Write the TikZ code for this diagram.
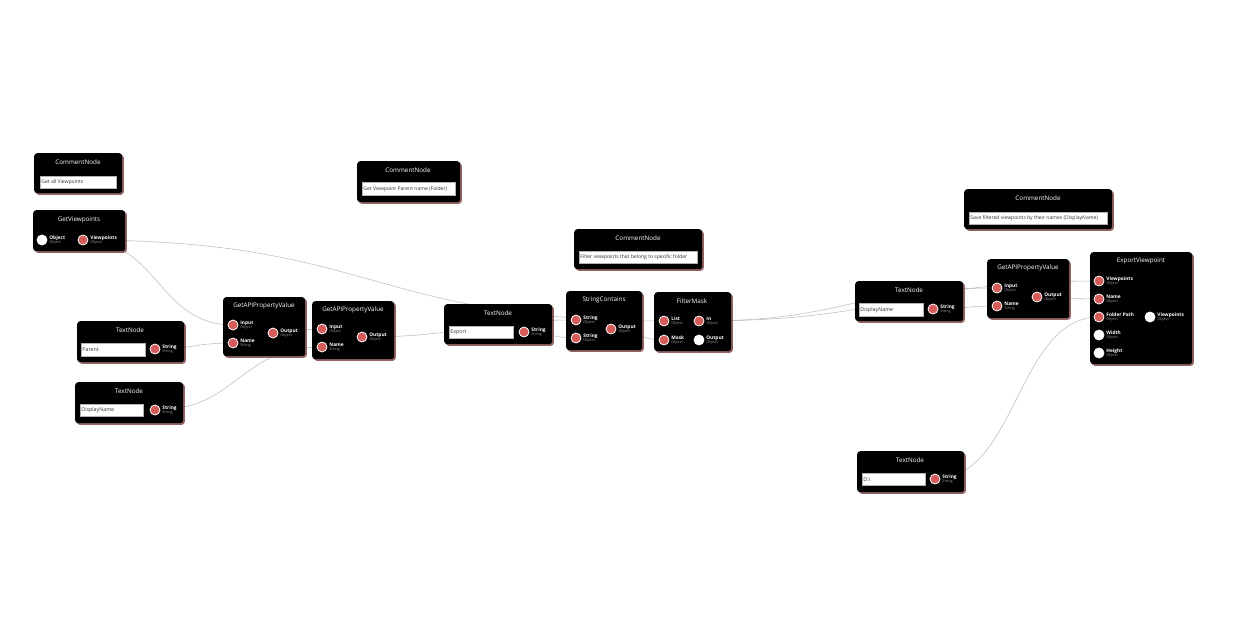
\documentclass[tikz,border=0pt]{standalone}
\usepackage{fontspec}
\setmainfont{Open Sans}
\usetikzlibrary{calc,shadows,backgrounds}
\definecolor{portred}{RGB}{214,92,92}
\definecolor{shad}{RGB}{120,60,60}
\definecolor{wiregray}{RGB}{190,190,190}
\definecolor{typegray}{RGB}{150,150,150}
\pgfdeclarelayer{wires}
\pgfsetlayers{background,wires,main}
\tikzset{
  blk/.style={fill=black, rounded corners=3pt, inner sep=0pt, anchor=north west,
    drop shadow={shadow xshift=1.6pt, shadow yshift=-1.6pt, fill=shad, opacity=0.8}},
  ttl/.style={text=white, inner sep=0pt, font=\fontsize{6.3}{7}\selectfont},
  tbox/.style={fill=white, draw=gray!60, line width=0.4pt, inner sep=0pt, anchor=north west},
  tboxtxt/.style={anchor=west, inner sep=0pt, text=black!80, font=\fontsize{5.3}{5.5}\selectfont},
  ctxt/.style={anchor=west, inner sep=0pt, text=black!80, font=\fontsize{5.05}{5.5}\selectfont},
  port/.style={circle, minimum size=10pt, inner sep=0pt, draw=white, line width=0.8pt},
  on/.style={fill=portred},
  off/.style={fill=white},
  plbl/.style={align=left, inner sep=0pt, text=white, font=\fontsize{4.8}{4.1}\selectfont},
  wirestyle/.style={draw=wiregray, line width=0.55pt}
}
\newcommand\mkport[6]{%
  \node[port,#4] (#1) at (#2,#3) {};
  \node[plbl, anchor=west] (#1-l) at ([xshift=1.8pt]#1.east) {\textbf{#5}\\{\fontsize{3.8}{3.8}\selectfont\color{typegray}#6}};
}
\newcommand\mkbox[5]{% name x1 y1 x2 y2
  \node[blk, minimum width={(#4-#2)*1pt}, minimum height={(#5-#3)*1pt}] (#1) at (#2,#3) {};
}
\newcommand\mktitle[4]{% name cx y text
  \node[ttl] (#1) at (#2,#3) {#4};
}
\newcommand\mktext[7]{% name x1 y1 x2 y2 style text
  \node[tbox, minimum width={(#4-#2)*1pt}, minimum height={(#5-#3)*1pt}] (#1) at (#2,#3) {};
  \node[#6] (#1-txt) at ([xshift=1.2pt]#1.west) {#7};
}
\newcommand\wire[2]{%
  \draw[wirestyle] let \p1=(#1.center), \p2=(#2.center), \n1={(\x2-\x1)/2} in
    (\p1) .. controls +(\n1,0) and +(-\n1,0) .. (\p2);
}
\begin{document}
\begin{tikzpicture}[x=1pt,y=-1pt]
\begin{pgfonlayer}{background}
  \fill[white] (0,0) rectangle (1249,624);
\end{pgfonlayer}
\useasboundingbox (0,0) rectangle (1249,624);

% Comment 1
\mkbox{c1}{34}{153}{122}{193}
\mktitle{c1t}{78}{162}{CommentNode}
\mktext{c1b}{40}{176}{116}{188}{ctxt}{Get all Viewpoints}

% GetViewpoints
\mkbox{gv}{33}{210}{125}{251}
\mktitle{gvt}{79}{220}{GetViewpoints}
\mkport{gvin}{42}{240}{off}{Object}{Object}
\mkport{gvout}{83}{240}{on}{Viewpoints}{Object}

% TextNode Parent
\mkbox{tp}{77}{321}{184}{362}
\mktitle{tpt}{130}{330}{TextNode}
\mktext{tpb}{81}{343}{145}{356}{tboxtxt}{Parent}
\mkport{tpout}{155}{349}{on}{String}{String}

% TextNode DisplayName
\mkbox{td}{75}{382}{183}{423}
\mktitle{tdt}{129}{391}{TextNode}
\mktext{tdb}{80}{404}{143}{416}{tboxtxt}{DisplayName}
\mkport{tdout}{155}{410}{on}{String}{String}

% GetAPIPropertyValue 1
\mkbox{ga}{223}{297}{305}{356}
\mktitle{gat}{264}{306}{GetAPIPropertyValue}
\mkport{gain}{233}{325}{on}{Input}{Object}
\mkport{ganame}{233}{343}{on}{Name}{String}
\mkport{gaout}{273}{333}{on}{Output}{Object}

% GetAPIPropertyValue 2
\mkbox{gb}{312}{301}{394}{359}
\mktitle{gbt}{353}{310}{GetAPIPropertyValue}
\mkport{gbin}{322}{329}{on}{Input}{Object}
\mkport{gbname}{322}{347}{on}{Name}{String}
\mkport{gbout}{362}{337}{on}{Output}{Object}

% Comment 2
\mkbox{c2}{357}{161}{460}{202}
\mktitle{c2t}{408}{170}{CommentNode}
\mktext{c2b}{362}{182}{455}{195}{ctxt}{Get Viewpoint Parent name (Folder)}

% TextNode Export
\mkbox{te}{444}{304}{552}{344}
\mktitle{tet}{498}{313}{TextNode}
\mktext{teb}{449}{326}{513}{338}{tboxtxt}{Export}
\mkport{teout}{524}{332}{on}{String}{String}

% StringContains
\mkbox{sc}{566}{291}{642}{350}
\mktitle{sct}{604}{300}{StringContains}
\mkport{scs1}{576}{320}{on}{String}{Object}
\mkport{scs2}{576}{338}{on}{String}{Object}
\mkport{scout}{611}{329}{on}{Output}{Object}

% FilterMask
\mkbox{fm}{654}{292}{731}{351}
\mktitle{fmt}{692}{301}{FilterMask}
\mkport{fmlist}{664}{321}{on}{List}{Object}
\mkport{fmmask}{664}{340}{on}{Mask}{Object}
\mkport{fmin}{699}{321}{on}{In}{Object}
\mkport{fmout}{699}{340}{off}{Output}{Object}

% Comment 3
\mkbox{c3}{574}{229}{702}{269}
\mktitle{c3t}{638}{238}{CommentNode}
\mktext{c3b}{579}{251}{697}{263}{ctxt}{Filter viewpoints that belong to specific folder}

% Comment 4
\mkbox{c4}{964}{189}{1112}{229}
\mktitle{c4t}{1038}{198}{CommentNode}
\mktext{c4b}{969}{212}{1107}{224}{ctxt}{Save filtered viewpoints by their names (DisplayName)}

% TextNode DisplayName (right)
\mkbox{tr}{855}{281}{963}{321}
\mktitle{trt}{909}{290}{TextNode}
\mktext{trb}{859}{303}{923}{316}{tboxtxt}{DisplayName}
\mkport{trout}{933}{309}{on}{String}{String}

% GetAPIPropertyValue 3
\mkbox{gc}{987}{259}{1069}{318}
\mktitle{gct}{1028}{268}{GetAPIPropertyValue}
\mkport{gcin}{997}{288}{on}{Input}{Object}
\mkport{gcname}{997}{306}{on}{Name}{String}
\mkport{gcout}{1037}{297}{on}{Output}{Object}

% ExportViewpoint
\mkbox{ev}{1090}{252}{1192}{364}
\mktitle{evt}{1141}{261}{ExportViewpoint}
\mkport{evvp}{1099}{281}{on}{Viewpoints}{Object}
\mkport{evname}{1099}{299}{on}{Name}{Object}
\mkport{evfp}{1099}{317}{on}{Folder Path}{Object}
\mkport{evw}{1099}{335}{off}{Width}{Object}
\mkport{evh}{1099}{353}{off}{Height}{Object}
\mkport{evout}{1150}{317}{off}{Viewpoints}{Object}

% TextNode D:\
\mkbox{tz}{857}{451}{964}{492}
\mktitle{tzt}{910}{460}{TextNode}
\mktext{tzb}{862}{473}{925}{485}{tboxtxt}{D:\textbackslash}
\mkport{tzout}{935}{479}{on}{String}{String}

\begin{pgfonlayer}{wires}
\wire{gvout}{gain}
\wire{gvout}{fmlist}
\wire{tpout}{ganame}
\wire{gaout}{gbin}
\wire{tdout}{gbname}
\wire{gbout}{scs1}
\wire{teout}{scs2}
\wire{scout}{fmmask}
\wire{fmin}{gcin}
\wire{fmin}{evvp}
\wire{trout}{gcname}
\wire{gcout}{evname}
\wire{tzout}{evfp}
\end{pgfonlayer}
\end{tikzpicture}
\end{document}
